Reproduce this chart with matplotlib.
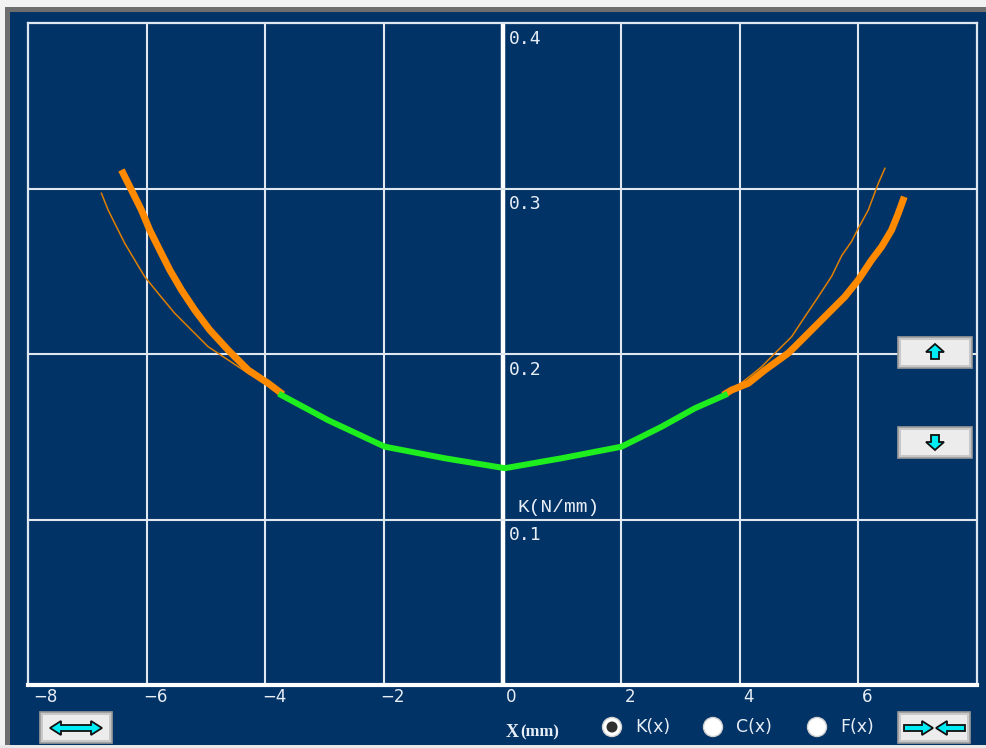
import matplotlib
matplotlib.use("Agg")
import matplotlib.pyplot as plt
from matplotlib.patches import Rectangle, Polygon, Circle

# ---------------- data ----------------
x_ticks = [-8, -6, -4, -2, 0, 2, 4, 6]
y_ticks = [0.1, 0.2, 0.3, 0.4]

green_x = [-3.73, -2.94, -1.985, -0.973, 0.04, 0.995, 2.007, 2.68, 3.243, 3.75]
green_y = [0.1752, 0.160, 0.144, 0.137, 0.131, 0.137, 0.144, 0.156, 0.1672, 0.1752]

thick_left_x = [-6.425, -6.256, -6.088, -5.948, -5.779, -5.610, -5.413,
                -5.189, -4.936, -4.626, -4.288, -3.951, -3.70]
thick_left_y = [0.3112, 0.2991, 0.2870, 0.2749, 0.2628, 0.2508, 0.2387,
                0.2266, 0.2145, 0.2024, 0.1903, 0.1823, 0.1755]
thick_right_x = [3.72, 3.862, 4.143, 4.423, 4.82, 4.929, 5.211, 5.492,
                 5.772, 5.998, 6.223, 6.391, 6.560, 6.673, 6.774]
thick_right_y = [0.1752, 0.1782, 0.1823, 0.1903, 0.2006, 0.2044, 0.2145,
                 0.2246, 0.2346, 0.2447, 0.2568, 0.2648, 0.2749, 0.2850, 0.2950]

thin_left_x = [-6.762, -6.649, -6.538, -6.369, -6.201, -6.032, -5.806,
               -5.526, -5.245, -4.963, -4.626, -4.288, -4.008, -3.85]
thin_left_y = [0.2971, 0.2870, 0.2790, 0.2669, 0.2568, 0.2467, 0.2367,
               0.2246, 0.2145, 0.2044, 0.1964, 0.1883, 0.1823, 0.1790]
thin_right_x = [3.90, 4.199, 4.368, 4.592, 4.874, 5.098, 5.324, 5.55,
                5.72, 5.885, 5.998, 6.167, 6.336, 6.447]
thin_right_y = [0.1790, 0.1873, 0.1923, 0.2004, 0.2104, 0.2225, 0.2346,
                0.2470, 0.2595, 0.2680, 0.2759, 0.2870, 0.3031, 0.3122]

y_axis_title = "K(N/mm)"
x_axis_title = ("X", "(mm)")
radio_labels = ["K(x)", "C(x)", "F(x)"]

# ---------------- styles ----------------
BG = "#023366"
GRID = "#dfe7f1"
TXT = "#e8eef6"
W, H = 986, 748

fig = plt.figure(figsize=(W / 100, H / 100), dpi=100)
fig.patch.set_facecolor(BG)

ax = fig.add_axes([28 / W, (H - 685) / H, (977 - 28) / W, (685 - 23) / H])
ax.set_facecolor(BG)
ax.set_xlim(-8, 8)
ax.set_ylim(0, 0.4)
ax.set_xticks([])
ax.set_yticks([])
for s in ax.spines.values():
    s.set_color(GRID)
    s.set_linewidth(1.6)
ax.spines["bottom"].set_linewidth(3)
ax.spines["bottom"].set_color("white")

for xv in x_ticks[1:]:
    if xv == 0:
        ax.axvline(0, color="white", lw=3.2, zorder=1)
    else:
        ax.axvline(xv, color=GRID, lw=1.5, zorder=1)
for yv in y_ticks[:-1]:
    ax.axhline(yv, color=GRID, lw=1.5, zorder=1)

# curves
ax.plot(thin_left_x, thin_left_y, color="#e07f00", lw=1.1, zorder=3)
ax.plot(thin_right_x, thin_right_y, color="#e07f00", lw=1.1, zorder=3)
ax.plot(thick_left_x, thick_left_y, color="#ff8a00", lw=5.0, zorder=4,
        solid_capstyle="butt")
ax.plot(thick_right_x, thick_right_y, color="#ff8a00", lw=5.0, zorder=4,
        solid_capstyle="butt")
ax.plot(green_x, green_y, color="#1eee1e", lw=4.3, zorder=5)

# y labels along x=0 axis
for yv in y_ticks:
    ax.text(0.1, yv - 0.0095, f"{yv:.1f}", color=TXT,
            family="DejaVu Sans Mono", fontsize=13, ha="left", va="center",
            zorder=6)
ax.text(0.25, 0.107, y_axis_title, color=TXT, family="Liberation Mono",
        fontsize=14, ha="left", va="center", zorder=6)

# x tick labels under axis
xtr = ax.get_xaxis_transform()
for xv in x_ticks:
    off = 0.3 if xv == -8 else 0.15
    ax.text(xv + off, -0.018, f"{xv}".replace("-", "\u2212"), transform=xtr,
            color=TXT, family="DejaVu Sans", fontsize=12,
            ha="center", va="center", clip_on=False)
ax.text(0.06, -0.071, x_axis_title[0], transform=xtr, color=TXT,
        family="Liberation Serif", fontsize=13, fontweight="bold",
        ha="left", va="center", clip_on=False)
ax.text(0.3, -0.071, x_axis_title[1], transform=xtr, color=TXT,
        family="Liberation Serif", fontsize=12, fontweight="bold",
        ha="left", va="center", clip_on=False)

# ---------------- window decorations (pixel coords) ----------------
deco = fig.add_axes([0, 0, 1, 1], zorder=10)
deco.set_xlim(0, W)
deco.set_ylim(H, 0)
deco.axis("off")
deco.patch.set_alpha(0)

deco.add_patch(Rectangle((0, 0), W, 7, color="#f2f2f2", lw=0))
deco.add_patch(Rectangle((0, 0), 5, H, color="#f2f2f2", lw=0))
deco.add_patch(Rectangle((5, 7), W, 5, color="#6e6e6e", lw=0))
deco.add_patch(Rectangle((5, 7), 5, H, color="#6e6e6e", lw=0))
deco.add_patch(Rectangle((0, 745), W, 3, color="#e8e8e8", lw=0))


def button(x0, y0, x1, y1):
    deco.add_patch(Rectangle((x0, y0), x1 - x0, y1 - y0, facecolor="#c8c8c8",
                             edgecolor="#9a9a9a", lw=1.2))
    deco.add_patch(Rectangle((x0 + 3, y0 + 3), x1 - x0 - 6, y1 - y0 - 6,
                             facecolor="#ececec", edgecolor="none"))


def arrow_poly(pts):
    deco.add_patch(Polygon(pts, closed=True, facecolor="#00ecf4",
                           edgecolor="#101010", lw=1.3, joinstyle="miter"))


# left-bottom button: double arrow
button(40, 712, 112, 743)
arrow_poly([(50, 728), (61, 721), (61, 725), (91, 725), (91, 721), (102, 728),
            (91, 735), (91, 731), (61, 731), (61, 735)])

# right-bottom button: inward arrows
button(898, 712, 970, 743)
arrow_poly([(904, 725), (922, 725), (922, 721), (933, 728), (922, 735),
            (922, 731), (904, 731)])
arrow_poly([(965, 725), (947, 725), (947, 721), (936, 728), (947, 735),
            (947, 731), (965, 731)])

# up / down buttons
button(898, 337, 972, 368)
arrow_poly([(935, 344), (944, 352), (939, 352), (939, 359), (931, 359),
            (931, 352), (926, 352)])
button(898, 427, 972, 458)
arrow_poly([(935, 450), (944, 442), (939, 442), (939, 435), (931, 435),
            (931, 442), (926, 442)])

# radio buttons
radio_x = [612, 713, 817]
for i, (cx, lab) in enumerate(zip(radio_x, radio_labels)):
    deco.add_patch(Circle((cx, 727), 9.5, facecolor="white",
                          edgecolor="#d0d0d0", lw=1))
    if i == 0:
        deco.add_patch(Circle((cx, 727), 5.5, facecolor="#303030",
                              edgecolor="none"))
    deco.text(cx + 23, 727, lab, color=TXT, family="DejaVu Sans",
              fontsize=12.5, ha="left", va="center")

fig.savefig("out.png", dpi=100, facecolor=fig.get_facecolor())
